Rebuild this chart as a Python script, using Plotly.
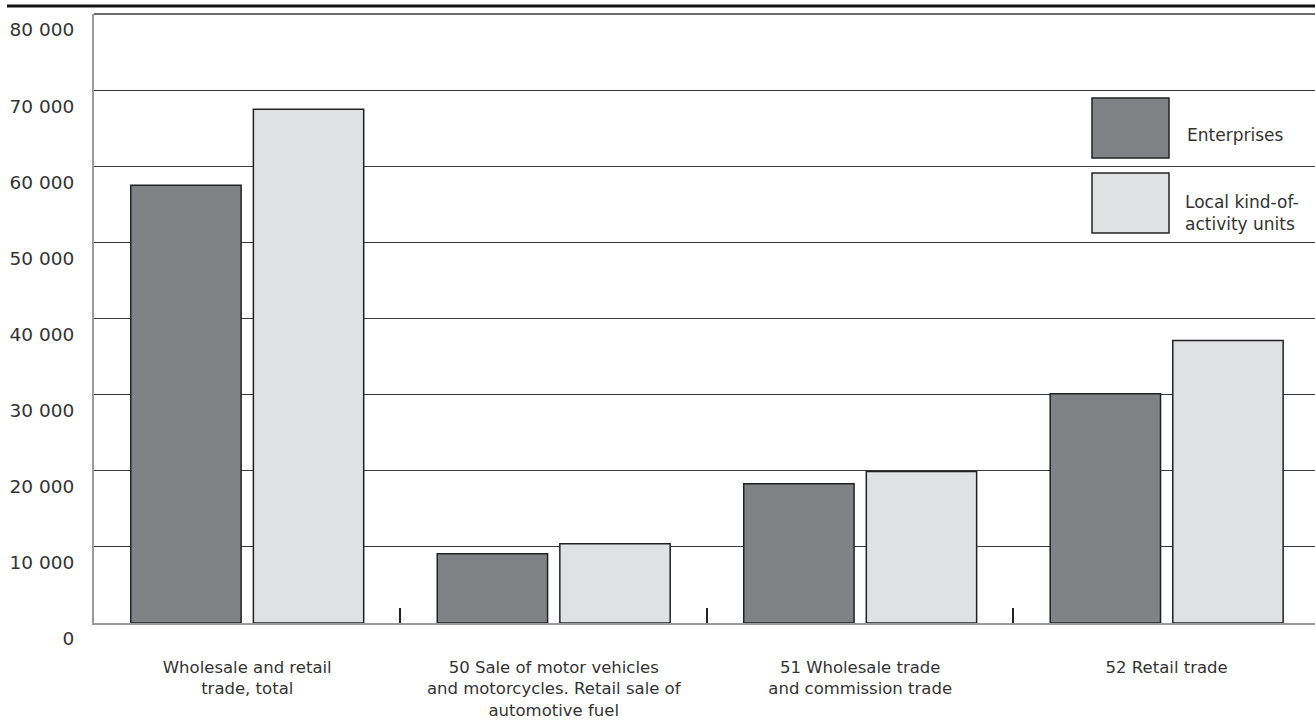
import plotly.graph_objects as go

categories = [
    "Wholesale and retail<br>trade, total",
    "50 Sale of motor vehicles<br>and motorcycles. Retail sale of<br>automotive fuel",
    "51 Wholesale trade<br>and commission trade",
    "52 Retail trade",
]
enterprises = [57500, 9100, 18300, 30100]
local_units = [67500, 10400, 19900, 37100]
y_ticks = [0, 10000, 20000, 30000, 40000, 50000, 60000, 70000, 80000]
y_tick_labels = ["0", "10 000", "20 000", "30 000", "40 000", "50 000", "60 000", "70 000", "80 000"]
series_names = ["Enterprises", "Local kind-of-<br>activity units"]

DARK = "#818286"
LIGHT = "#e0e1e3"
EDGE = "#222222"
TEXT = "#333333"
GRID = "#3a3a3a"
FONT = "DejaVu Sans"

fig = go.Figure()
fig.add_trace(go.Bar(x=categories, y=enterprises, name="Enterprises",
                     marker=dict(color=DARK, line=dict(color=EDGE, width=1.5))))
fig.add_trace(go.Bar(x=categories, y=local_units, name="Local kind-of-activity units",
                     marker=dict(color=LIGHT, line=dict(color=EDGE, width=1.5))))

W, H = 1315, 727
ml, mr, mt, mb = 94, 0, 14, 104
pw, ph = W - ml - mr, H - mt - mb

def px(x):
    return (x - ml) / pw

def py(y):
    return (H - mb - y) / ph

shapes = [
    # top rule
    dict(type="line", xref="paper", yref="paper", x0=px(7), x1=1, y0=py(6), y1=py(6),
         line=dict(color="#111111", width=3)),
    # top frame line of plot area
    dict(type="line", xref="paper", yref="paper", x0=0, x1=1, y0=1, y1=1,
         line=dict(color=GRID, width=1.3)),
    # legend swatches
    dict(type="rect", xref="paper", yref="paper", x0=px(1092), x1=px(1169), y0=py(158), y1=py(98),
         fillcolor=DARK, line=dict(color=EDGE, width=1.5)),
    dict(type="rect", xref="paper", yref="paper", x0=px(1092), x1=px(1169), y0=py(233), y1=py(173),
         fillcolor=LIGHT, line=dict(color=EDGE, width=1.5)),
]
annotations = [
    dict(xref="paper", yref="paper", x=px(1185), y=py(135), text=series_names[0], showarrow=False,
         xanchor="left", yanchor="middle", align="left", font=dict(family=FONT, size=17, color=TEXT)),
    dict(xref="paper", yref="paper", x=px(1183), y=py(213), text=series_names[1], showarrow=False,
         xanchor="left", yanchor="middle", align="left", font=dict(family=FONT, size=17, color=TEXT)),
]

fig.update_layout(
    width=W, height=H,
    margin=dict(l=ml, r=mr, t=mt, b=mb, pad=0, autoexpand=False),
    paper_bgcolor="white", plot_bgcolor="white",
    barmode="group", bargap=0.2, bargroupgap=0.1,
    showlegend=False,
    font=dict(family=FONT, size=16, color=TEXT),
    shapes=shapes, annotations=annotations,
)
fig.update_xaxes(
    automargin=False, range=[-0.5, 3.484],
    showline=True, linecolor="#9a9a9a", linewidth=2,
    ticks="inside", tickson="boundaries", ticklen=15, tickwidth=2, tickcolor="#222222",
    showgrid=False, ticklabelstandoff=28,
    tickfont=dict(family=FONT, size=16.5, color=TEXT),
)
fig.update_yaxes(
    automargin=False,
    range=[0, 80000], tickvals=y_ticks, ticktext=y_tick_labels,
    showgrid=True, gridcolor=GRID, gridwidth=1.3,
    zeroline=False, showline=True, linecolor="#9a9a9a", linewidth=2,
    ticks="", ticklabelstandoff=14, ticklabelshift=16,
    tickfont=dict(family=FONT, size=18.5, color=TEXT),
)

fig.write_html("out.html", config={"displayModeBar": False},
               post_script="document.body.style.margin='0';")
